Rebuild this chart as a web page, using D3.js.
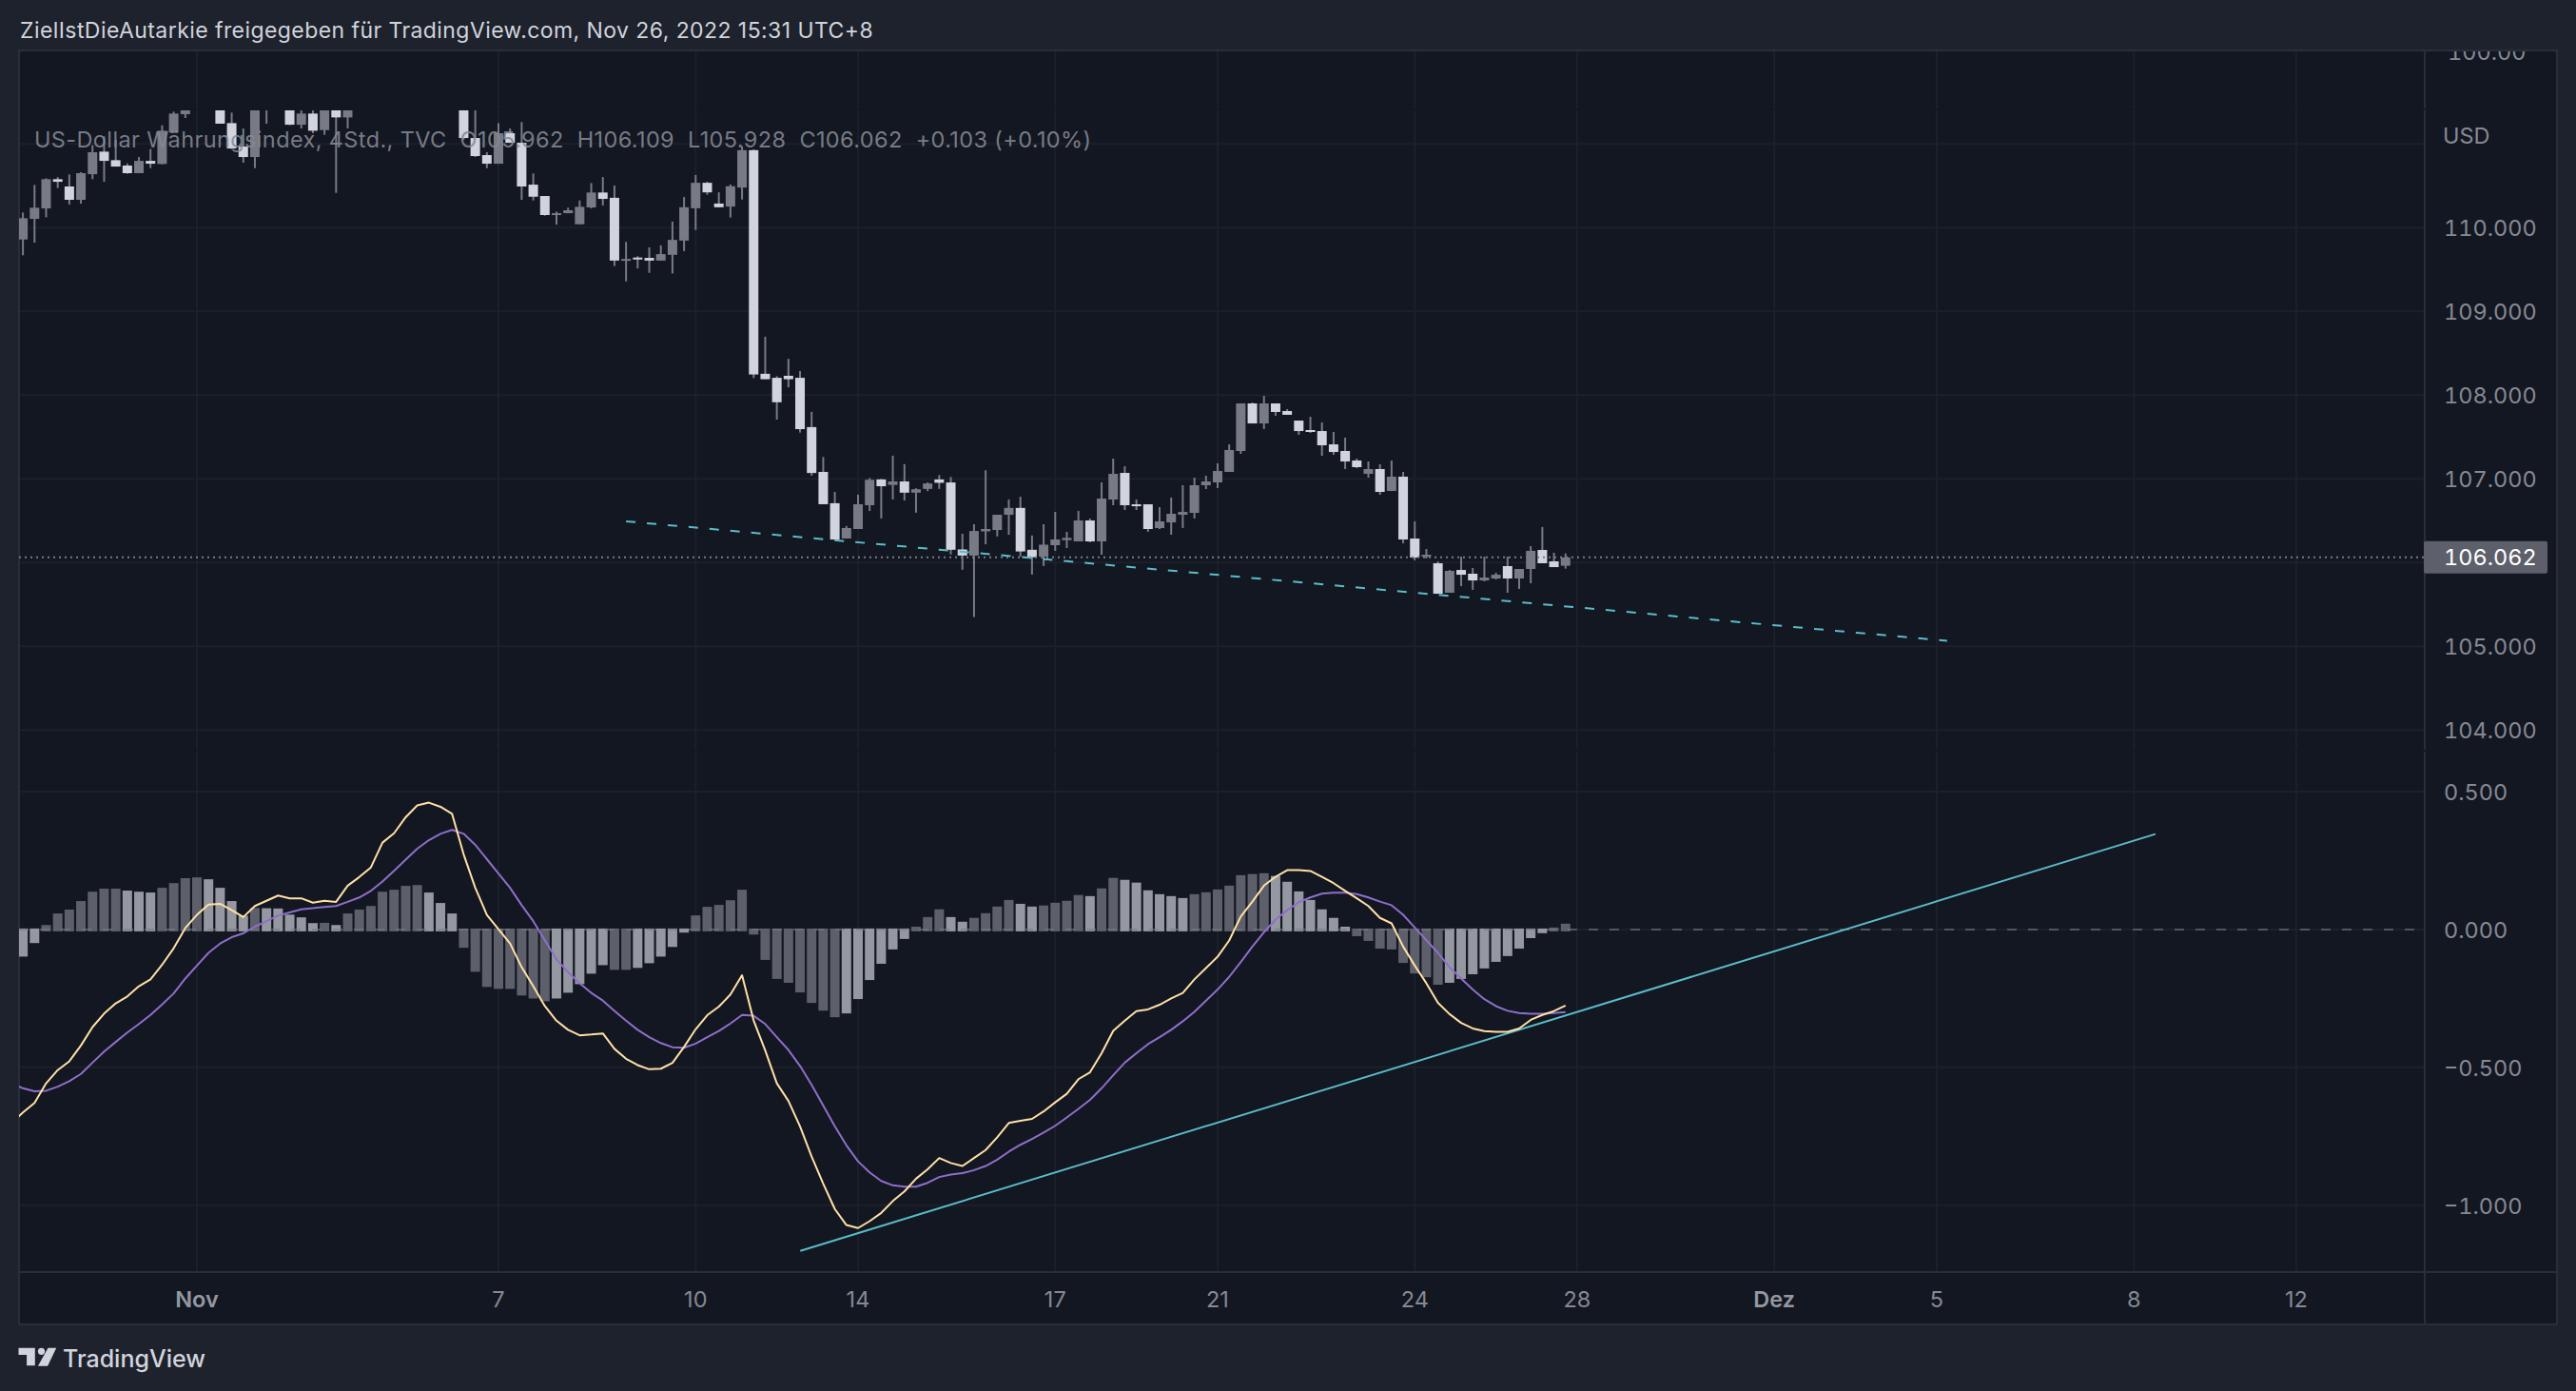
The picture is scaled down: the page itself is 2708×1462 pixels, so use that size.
<!DOCTYPE html>
<html>
<head>
<meta charset="utf-8">
<script src="https://cdn.jsdelivr.net/npm/d3@7.9.0/dist/d3.min.js"></script>
<style>
  html, body { margin: 0; padding: 0; background: #1e222d; overflow: hidden; }
  text { font-family: Inter, "Noto Sans", sans-serif; }
</style>
</head>
<body>
<svg id="chart"></svg>
<script>
// 4h candles, bar 0 is the first one at the left edge
// candles 29-37 and a few around them sit above the clipped top of the pane
const candleOpen = [
  109.859,110.105,110.230,110.579,110.492,110.333,110.639,110.908,110.806,110.742,
  110.651,110.798,110.761,111.139,111.355,111.450,111.700,111.800,111.249,110.969,
  110.844,111.450,111.600,111.550,111.230,111.363,111.166,111.450,111.317,111.500,
  111.900,112.300,112.600,112.850,112.700,112.400,112.550,112.200,111.900,111.071,
  110.867,110.764,111.128,111.014,110.514,110.378,110.154,110.173,110.041,110.242,
  110.420,110.357,109.611,109.643,109.639,109.607,109.676,109.846,110.232,110.536,
  110.288,110.252,110.479,110.926,108.255,108.207,108.231,108.207,107.618,107.083,
  106.709,106.287,106.401,106.685,106.993,106.928,106.969,106.835,106.880,106.993,
  106.957,106.157,106.084,106.373,106.389,106.571,106.653,106.153,106.072,106.208,
  106.268,106.253,106.503,106.253,106.753,107.071,106.696,106.696,106.412,106.480,
  106.571,106.594,106.924,106.958,107.083,107.333,107.901,107.662,107.901,107.810,
  107.696,107.583,107.571,107.412,107.333,107.219,107.060,107.117,106.855,107.026,
  106.287,106.071,105.992,105.640,105.912,105.867,105.787,105.810,105.958,105.810,
  105.924,106.151,106.015,105.962
];
const candleHigh = [
  110.181,110.511,110.590,110.605,110.636,110.662,110.984,111.090,111.050,110.768,
  110.844,110.939,111.223,111.386,111.500,111.850,111.850,111.900,111.374,111.185,
  111.600,111.700,111.750,111.600,111.450,111.450,111.550,111.550,111.550,112.000,
  112.450,112.800,113.000,113.050,112.850,112.700,112.650,112.350,112.000,111.450,
  110.901,111.249,111.185,111.261,110.647,110.378,110.192,110.238,110.325,110.533,
  110.605,110.504,109.830,109.660,109.765,109.789,110.073,110.366,110.629,110.548,
  110.422,110.516,110.974,110.934,108.698,108.227,108.434,108.288,107.801,107.261,
  106.843,106.437,106.811,107.010,107.000,107.277,107.176,106.888,106.957,107.046,
  107.022,106.344,106.458,107.103,106.571,106.754,106.786,106.324,106.458,106.605,
  106.367,106.617,106.526,106.958,107.242,107.151,106.753,106.696,106.662,106.776,
  106.924,107.015,107.037,107.185,107.412,107.901,107.912,107.992,107.901,107.833,
  107.696,107.742,107.674,107.560,107.492,107.242,107.208,107.174,107.219,107.083,
  106.492,106.162,106.015,105.912,106.071,105.935,106.071,105.878,106.071,105.924,
  106.196,106.424,106.117,106.109
];
const candleLow = [
  109.670,109.821,110.124,110.473,110.276,110.287,110.579,110.548,110.730,110.643,
  110.651,110.711,110.757,111.128,111.310,111.420,111.450,111.242,110.939,110.776,
  110.711,111.242,111.450,111.225,111.185,111.128,111.109,110.416,111.185,111.450,
  111.800,112.200,112.500,112.550,112.300,112.250,112.100,111.800,111.050,110.844,
  110.711,110.764,111.014,110.333,110.325,110.143,110.037,110.173,110.041,110.230,
  110.264,109.542,109.359,109.513,109.461,109.607,109.453,109.720,109.972,110.394,
  110.244,110.122,110.337,108.203,108.190,107.708,108.093,107.553,107.038,106.697,
  106.275,106.287,106.401,106.616,106.527,106.754,106.742,106.596,106.855,106.880,
  106.097,105.914,105.350,106.218,106.312,106.332,106.072,105.857,105.959,106.140,
  106.174,106.253,106.242,106.094,106.685,106.628,106.628,106.367,106.401,106.333,
  106.412,106.526,106.878,106.890,107.083,107.299,107.662,107.594,107.753,107.765,
  107.526,107.549,107.276,107.287,107.117,107.128,107.015,106.810,106.855,106.230,
  106.026,106.049,105.628,105.640,105.719,105.674,105.776,105.799,105.640,105.685,
  105.753,105.992,105.946,105.928
];
const candleClose = [
  110.113,110.238,110.579,110.548,110.333,110.651,110.901,110.798,110.730,110.651,
  110.798,110.764,111.158,111.363,111.420,111.700,111.550,111.242,110.946,110.844,
  111.500,111.600,111.500,111.230,111.363,111.158,111.500,111.317,111.450,111.900,
  112.300,112.600,112.850,112.700,112.400,112.550,112.200,111.900,111.071,110.855,
  110.764,111.128,111.014,110.492,110.370,110.151,110.173,110.208,110.249,110.420,
  110.344,109.607,109.627,109.623,109.607,109.684,109.854,110.244,110.536,110.422,
  110.244,110.495,110.926,108.247,108.190,107.915,108.190,107.594,107.070,106.697,
  106.275,106.413,106.697,106.989,106.912,106.969,106.835,106.876,106.945,106.953,
  106.153,106.084,106.377,106.401,106.571,106.653,106.133,106.064,106.214,106.276,
  106.295,106.503,106.253,106.765,107.060,106.685,106.674,106.401,106.492,106.583,
  106.605,106.924,106.969,107.094,107.344,107.901,107.662,107.901,107.799,107.765,
  107.571,107.560,107.401,107.321,107.208,107.140,107.117,106.844,107.026,106.276,
  106.060,106.094,105.628,105.901,105.855,105.787,105.821,105.855,105.810,105.924,
  106.140,105.992,105.946,106.062
];

// MACD histogram, one per candle
const histBefore = -0.12;
const histValues = [
  -0.095,-0.046,0.016,0.058,0.072,0.103,0.137,0.148,0.148,0.141,
  0.137,0.134,0.151,0.168,0.186,0.189,0.182,0.151,0.103,0.050,
  0.078,0.077,0.076,0.054,0.044,0.023,0.024,0.016,0.058,0.072,
  0.085,0.137,0.144,0.158,0.161,0.134,0.096,0.058,-0.063,-0.150,
  -0.205,-0.212,-0.212,-0.236,-0.247,-0.257,-0.247,-0.226,-0.195,-0.157,
  -0.126,-0.143,-0.143,-0.136,-0.119,-0.095,-0.060,-0.008,0.051,0.082,
  0.089,0.106,0.144,-0.015,-0.107,-0.176,-0.190,-0.225,-0.263,-0.291,
  -0.315,-0.301,-0.249,-0.180,-0.121,-0.069,-0.031,0.010,0.045,0.073,
  0.045,0.028,0.042,0.059,0.083,0.107,0.093,0.083,0.087,0.097,
  0.104,0.125,0.121,0.149,0.187,0.180,0.170,0.142,0.128,0.121,
  0.114,0.128,0.135,0.145,0.159,0.197,0.201,0.204,0.194,0.173,
  0.138,0.107,0.073,0.042,0.010,-0.021,-0.038,-0.066,-0.069,-0.118,
  -0.156,-0.170,-0.197,-0.190,-0.176,-0.159,-0.138,-0.114,-0.093,-0.066,
  -0.028,-0.010,0.007,0.021
];

// both lines start one bar before candle 0, that bar is cut by the pane edge
const macdLine = [
  -0.702,-0.664,-0.629,-0.558,-0.510,-0.478,-0.421,-0.354,-0.305,-0.268,-0.243,
  -0.206,-0.181,-0.128,-0.068,0.005,0.053,0.090,0.093,0.070,0.045,
  0.085,0.104,0.123,0.113,0.113,0.097,0.104,0.100,0.159,0.190,
  0.225,0.315,0.349,0.407,0.450,0.460,0.445,0.419,0.272,0.151,
  0.053,0.001,-0.051,-0.137,-0.206,-0.278,-0.331,-0.364,-0.384,-0.381,
  -0.377,-0.433,-0.469,-0.492,-0.507,-0.505,-0.484,-0.426,-0.362,-0.311,
  -0.280,-0.236,-0.166,-0.330,-0.439,-0.558,-0.622,-0.714,-0.824,-0.922,
  -1.014,-1.072,-1.083,-1.058,-1.028,-0.985,-0.950,-0.904,-0.870,-0.829,
  -0.847,-0.858,-0.829,-0.800,-0.754,-0.702,-0.694,-0.687,-0.660,-0.627,
  -0.596,-0.543,-0.518,-0.449,-0.368,-0.331,-0.296,-0.290,-0.273,-0.250,
  -0.230,-0.181,-0.140,-0.099,-0.040,0.047,0.101,0.159,0.191,0.215,
  0.215,0.212,0.191,0.168,0.140,0.113,0.085,0.042,0.022,-0.062,
  -0.131,-0.195,-0.266,-0.307,-0.339,-0.359,-0.369,-0.371,-0.371,-0.359,
  -0.328,-0.310,-0.296,-0.276
];
const signalLine = [
  -0.558,-0.576,-0.587,-0.585,-0.570,-0.550,-0.524,-0.483,-0.443,-0.408,-0.374,
  -0.343,-0.310,-0.272,-0.232,-0.178,-0.131,-0.085,-0.051,-0.028,-0.014,
  0.010,0.030,0.050,0.062,0.073,0.077,0.082,0.085,0.100,0.116,
  0.140,0.174,0.213,0.253,0.293,0.324,0.347,0.361,0.347,0.307,
  0.255,0.203,0.151,0.088,0.030,-0.039,-0.108,-0.155,-0.195,-0.230,
  -0.258,-0.295,-0.331,-0.364,-0.391,-0.412,-0.427,-0.429,-0.414,-0.391,
  -0.368,-0.341,-0.310,-0.313,-0.343,-0.391,-0.437,-0.495,-0.564,-0.639,
  -0.714,-0.783,-0.841,-0.881,-0.912,-0.928,-0.933,-0.933,-0.919,-0.898,
  -0.889,-0.884,-0.873,-0.858,-0.835,-0.806,-0.781,-0.760,-0.737,-0.712,
  -0.682,-0.651,-0.618,-0.576,-0.529,-0.483,-0.449,-0.416,-0.391,-0.364,
  -0.333,-0.299,-0.258,-0.218,-0.172,-0.118,-0.062,-0.010,0.036,0.070,
  0.099,0.116,0.130,0.133,0.133,0.128,0.116,0.101,0.088,0.053,
  0.007,-0.039,-0.085,-0.137,-0.178,-0.218,-0.253,-0.278,-0.295,-0.303,
  -0.306,-0.306,-0.303,-0.300
];

// hand drawn trend lines, [bar, value]
const priceTrend = [[52.0, 106.493], [165.9, 105.065]];
const macdTrend = [[67.02, -1.166], [183.86, 0.346]];

const priceTicks = [111, 110, 109, 108, 107, 106, 105, 104];
const priceTickLabels = [110, 109, 108, 107, 105, 104];
const macdTicks = [0.5, -0.5, -1];
const macdTickLabels = [0.5, 0, -0.5, -1];
const timeTicks = [15, 41, 58, 72, 89, 103, 120, 134, 151, 165, 182, 196];
const timeTickLabels = ['Nov', '7', '10', '14', '17', '21', '24', '28', 'Dez', '5', '8', '12'];
const lastPrice = 106.062;

const width = 2708, height = 1462;
const plot = { left: 20, top: 54, right: 2549, outer: 2688, bottom: 1337, axisBottom: 1392, paneTop: 116, paneGap: 789 };

const bg = '#131722', frame = '#1e222d', gridColor = '#1c202b', borderColor = '#2a2e39';
const lightCandle = '#d1d4dc', grayCandle = '#787b86';
const histLight = '#9598a1', histDark = '#5d606b';
const axisText = '#868993';

const svg = d3.select('#chart').attr('width', width).attr('height', height)
  .style('display', 'block');

svg.append('rect').attr('width', width).attr('height', height).attr('fill', frame);
svg.append('rect')
  .attr('x', plot.left).attr('y', plot.top)
  .attr('width', plot.outer - plot.left).attr('height', plot.axisBottom - plot.top)
  .attr('fill', bg);

const x = d3.scaleLinear().domain([0, 133]).range([24.1, 24.1 + 133 * 12.193]);
const yPrice = d3.scaleLinear().domain([110, 104]).range([239.3, 767.3]);
const yMacd = d3.scaleLinear().domain([0.5, -1]).range([832, 1266.7]);

const defs = svg.append('defs');
const addClip = (id, x0, y0, x1, y1) => defs.append('clipPath').attr('id', id)
  .append('rect').attr('x', x0).attr('y', y0).attr('width', x1 - x0).attr('height', y1 - y0);
addClip('price-clip', plot.left, plot.paneTop, plot.right, plot.paneGap - 1);
addClip('macd-clip', plot.left, plot.paneGap + 1, plot.right, plot.bottom);
addClip('top-clip', plot.right, plot.top, plot.outer, plot.top + 60);

// -------------------- GRID -------------------- //
const grid = svg.append('g').attr('stroke', gridColor).attr('stroke-width', 2);
grid.selectAll('.v').data(timeTicks).join('line')
  .attr('x1', d => x(d)).attr('x2', d => x(d))
  .attr('y1', plot.top).attr('y2', plot.bottom);
grid.selectAll('.hp').data(priceTicks).join('line')
  .attr('x1', plot.left).attr('x2', plot.right)
  .attr('y1', d => yPrice(d)).attr('y2', d => yPrice(d));
grid.selectAll('.hm').data(macdTicks.concat([0])).join('line')
  .attr('x1', plot.left).attr('x2', plot.right)
  .attr('y1', d => yMacd(d)).attr('y2', d => yMacd(d));

// -------------------- BORDERS -------------------- //
const borders = svg.append('g').attr('stroke', borderColor).attr('stroke-width', 2);
borders.append('line').attr('x1', plot.left - 1).attr('x2', plot.outer + 1).attr('y1', plot.top - 1).attr('y2', plot.top - 1);
borders.append('line').attr('x1', plot.left).attr('x2', plot.left).attr('y1', plot.top).attr('y2', plot.axisBottom);
borders.append('line').attr('x1', plot.outer).attr('x2', plot.outer).attr('y1', plot.top).attr('y2', plot.axisBottom);
borders.append('line').attr('x1', plot.left).attr('x2', plot.outer).attr('y1', plot.bottom).attr('y2', plot.bottom);
borders.append('line').attr('x1', plot.left - 1).attr('x2', plot.outer + 1).attr('y1', plot.axisBottom).attr('y2', plot.axisBottom);
borders.append('line').attr('x1', plot.right).attr('x2', plot.right).attr('y1', plot.top).attr('y2', plot.axisBottom);

// thin gaps between the panes, grid and scale line stop there
[plot.paneTop - 1, plot.paneGap].forEach(y => {
  svg.append('rect').attr('x', plot.left + 1).attr('y', y - 1)
    .attr('width', plot.outer - plot.left - 2).attr('height', 2).attr('fill', bg);
});

// -------------------- CANDLES -------------------- //
const candles = d3.range(candleOpen.length).map(i => ({
  i, o: candleOpen[i], h: candleHigh[i], l: candleLow[i], c: candleClose[i]
}));
const bodyWidth = 10;

const pricePane = svg.append('g').attr('clip-path', 'url(#price-clip)');

pricePane.selectAll('.wick').data(candles).join('line')
  .attr('class', 'wick')
  .attr('x1', d => x(d.i)).attr('x2', d => x(d.i))
  .attr('y1', d => yPrice(d.h)).attr('y2', d => yPrice(d.l))
  .attr('stroke', grayCandle).attr('stroke-width', 2);

pricePane.selectAll('.body').data(candles).join('rect')
  .attr('class', 'body')
  .attr('x', d => x(d.i) - bodyWidth / 2)
  .attr('y', d => yPrice(Math.max(d.o, d.c)))
  .attr('width', bodyWidth)
  .attr('height', d => Math.max(2, Math.abs(yPrice(d.o) - yPrice(d.c))))
  .attr('fill', d => d.c >= d.o ? grayCandle : lightCandle);

// last price line
svg.append('line')
  .attr('x1', plot.left).attr('x2', plot.right)
  .attr('y1', yPrice(lastPrice)).attr('y2', yPrice(lastPrice))
  .attr('stroke', grayCandle).attr('stroke-width', 2).attr('stroke-dasharray', '2 4');

const trendLine = d3.line().x(d => x(d[0]));

svg.append('path')
  .datum(priceTrend)
  .attr('d', trendLine.y(d => yPrice(d[1])))
  .attr('fill', 'none').attr('stroke', '#5bbcc8').attr('stroke-width', 2)
  .attr('stroke-dasharray', '10 12');

// -------------------- MACD -------------------- //
const macdPane = svg.append('g').attr('clip-path', 'url(#macd-clip)');

macdPane.selectAll('.hist').data(histValues).join('rect')
  .attr('class', 'hist')
  .attr('x', (d, i) => x(i) - bodyWidth / 2)
  .attr('y', d => d >= 0 ? yMacd(d) : yMacd(0) - 1)
  .attr('width', bodyWidth)
  .attr('height', d => Math.abs(yMacd(d) - yMacd(0)) + 2)
  .attr('fill', (d, i) => {
    const prev = i ? histValues[i - 1] : histBefore;
    const growing = d >= 0 ? d >= prev : d <= prev;
    return growing ? histDark : histLight;
  });

// zero line
macdPane.append('line')
  .attr('x1', plot.left).attr('x2', 2540)
  .attr('y1', yMacd(0)).attr('y2', yMacd(0))
  .attr('stroke', '#787b86').attr('stroke-opacity', 0.6).attr('stroke-width', 2)
  .attr('stroke-dasharray', '10 12');

macdPane.append('path')
  .datum(macdTrend)
  .attr('d', trendLine.y(d => yMacd(d[1])))
  .attr('fill', 'none').attr('stroke', '#5bbcc8').attr('stroke-width', 2);

const macdPath = d3.line().x((d, i) => x(i - 1)).y(d => yMacd(d));

macdPane.append('path')
  .attr('d', macdPath(signalLine))
  .attr('fill', 'none').attr('stroke', '#8e6fc9').attr('stroke-width', 2).attr('stroke-linejoin', 'round');
macdPane.append('path')
  .attr('d', macdPath(macdLine))
  .attr('fill', 'none').attr('stroke', '#ffe0a6').attr('stroke-width', 2).attr('stroke-linejoin', 'round');

// -------------------- PRICE SCALE -------------------- //
const scaleX = 2569;
const scaleFont = '23.5px';
const scale = svg.append('g')
  .attr('fill', axisText).attr('font-size', scaleFont)
  .style('font-variant-numeric', 'tabular-nums');

scale.selectAll('.pl').data(priceTickLabels).join('text')
  .attr('x', scaleX).attr('y', d => yPrice(d)).attr('dy', '0.36em')
  .text(d => d3.format('.3f')(d));

// label cut by the top edge of the pane
scale.append('text')
  .attr('clip-path', 'url(#top-clip)')
  .attr('x', scaleX + 4).attr('y', yPrice(112))
  .text('100.00');

scale.append('text')
  .attr('x', scaleX - 1).attr('y', yPrice(111) - 9).attr('dy', '0.36em')
  .text('USD');

scale.selectAll('.ml').data(macdTickLabels).join('text')
  .attr('x', scaleX).attr('y', d => yMacd(d)).attr('dy', '0.38em')
  .text(d => d3.format('.3f')(d).replace('-', '\u2212'));

// last price tag
svg.append('rect')
  .attr('x', plot.right - 1).attr('y', yPrice(lastPrice) - 17)
  .attr('width', 130).attr('height', 34).attr('rx', 2)
  .attr('fill', histDark);
svg.append('text')
  .attr('x', scaleX).attr('y', yPrice(lastPrice)).attr('dy', '0.36em')
  .attr('fill', '#ffffff').attr('font-size', scaleFont)
  .style('font-variant-numeric', 'tabular-nums')
  .text(d3.format('.3f')(lastPrice));

// -------------------- TIME SCALE -------------------- //
svg.append('g').selectAll('text').data(timeTicks).join('text')
  .attr('x', d => x(d)).attr('y', 1366).attr('dy', '0.36em')
  .attr('text-anchor', 'middle')
  .attr('font-size', scaleFont)
  .attr('font-weight', (d, i) => /[a-z]/.test(timeTickLabels[i]) ? 600 : 400)
  .attr('fill', (d, i) => /[a-z]/.test(timeTickLabels[i]) ? '#9598a1' : axisText)
  .text((d, i) => timeTickLabels[i]);

// -------------------- TEXTS -------------------- //
svg.append('text')
  .attr('x', 21).attr('y', 32).attr('dy', '0.36em')
  .attr('font-size', '23px').attr('letter-spacing', '0.43px').attr('fill', '#d1d4dc')
  .text('ZielIstDieAutarkie freigegeben für TradingView.com, Nov 26, 2022 15:31 UTC+8');

svg.append('text')
  .attr('x', 36).attr('y', 147).attr('dy', '0.36em')
  .attr('font-size', '23.5px').attr('letter-spacing', '0.38px')
  .attr('fill', '#868993').attr('fill-opacity', 0.9)
  .style('white-space', 'pre')
  .text('US-Dollar Währungsindex, 4Std., TVC  O105.962  H106.109  L105.928  C106.062  +0.103 (+0.10%)');

// logo
const logo = svg.append('g').attr('fill', '#d1d4dc').attr('transform', 'translate(19.5,1416.7)');
logo.append('path').attr('d', 'M0 0H17.3V18.5H8.6V7.3H0Z');
logo.append('circle').attr('cx', 24).attr('cy', 3.6).attr('r', 3.6);
logo.append('path').attr('d', 'M31 0H39.7L30.6 19H20.4Z');

svg.append('text')
  .attr('x', 66).attr('y', 1428).attr('dy', '0.36em')
  .attr('font-size', '25px').attr('font-weight', 500).attr('fill', '#d1d4dc')
  .text('TradingView');
</script>
</body>
</html>
